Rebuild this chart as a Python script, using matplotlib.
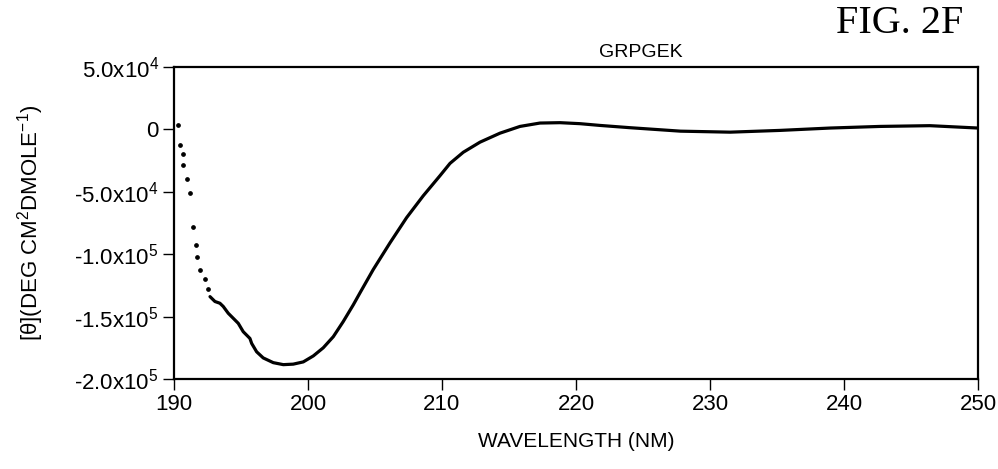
import numpy as np
import matplotlib
matplotlib.use("Agg")
from matplotlib import pyplot as plt

# CD spectrum of GRPGEK
# scattered points at the noisy short-wavelength end
dot_wl = [190.32, 190.45, 190.69, 190.69, 190.95, 191.19, 191.44, 191.64,
          191.74, 191.94, 192.34, 192.51]
dot_theta = [3800, -12300, -19600, -28500, -39700, -51000, -77900, -92900,
             -102100, -112800, -119800, -127900]

# continuous trace
line_wl = [192.69, 193.06, 193.43, 193.68, 194.05, 194.43, 194.80, 195.17,
           195.67, 195.80, 196.17, 196.66, 197.41, 198.16, 198.90, 199.65,
           200.40, 201.14, 201.89, 202.63, 203.38, 203.88, 204.87, 206.12,
           207.36, 208.60, 209.85, 210.60, 211.59, 212.84, 214.33, 215.82,
           217.31, 218.81, 220.30, 221.79, 224.0, 227.8, 231.5, 235.2,
           238.96, 242.7, 246.4, 250.0]
line_theta = [-134000, -137900, -139300, -141900, -147300, -151400, -155400,
              -162100, -167500, -171500, -178200, -183100, -186900, -188500,
              -188100, -186300, -181500, -175000, -166100, -154000, -140600,
              -131000, -112300, -90900, -70700, -53200, -37100, -27200,
              -18300, -10200, -3000, 2400, 5100, 5400, 4600, 3200, 1400,
              -1400, -2200, -800, 1100, 2400, 3000, 1100]

xticks = [190, 200, 210, 220, 230, 240, 250]
yticks = [5e4, 0, -5e4, -1e5, -1.5e5, -2e5]
ytick_labels = ['5.0x10$^4$', '0', '-5.0x10$^4$', '-1.0x10$^5$',
                '-1.5x10$^5$', '-2.0x10$^5$']

plt.rcParams['font.family'] = ['Liberation Sans', 'DejaVu Sans']
plt.rcParams['mathtext.fontset'] = 'custom'
plt.rcParams['mathtext.rm'] = 'Liberation Sans'
plt.rcParams['mathtext.it'] = 'Liberation Sans'
plt.rcParams['mathtext.default'] = 'regular'

fig = plt.figure(figsize=(9.98, 4.69), dpi=100)
ax = fig.add_axes([0.1743, 0.1919, 0.8057, 0.6652])

ax.plot(dot_wl, dot_theta, linestyle='none', marker='o', markersize=2.4,
        color='black')
ax.plot(line_wl, line_theta, color='black', linewidth=2.3,
        solid_joinstyle='round', solid_capstyle='round')

ax.set_xlim(190, 250)
ax.set_ylim(-2e5, 5e4)
ax.set_xticks(xticks)
ax.set_yticks(yticks)
ax.set_yticklabels(ytick_labels)
ax.tick_params(direction='out', length=8, width=1, labelsize=16, pad=3)
for s in ax.spines.values():
    s.set_linewidth(1.6)

ax.set_xlabel('WAVELENGTH (NM)', fontsize=15, labelpad=12)
ax.set_ylabel('[\u03b8](DEG CM$^2$DMOLE$^{-1}$)', fontsize=16, labelpad=20)

fig.text(641 / 998, 1 - 57 / 469, 'GRPGEK', fontsize=14, ha='center',
         va='baseline')
fig.text(963 / 998, 1 - 33 / 469, 'FIG. 2F', fontsize=29, ha='right',
         va='baseline', family='Liberation Serif')

fig.savefig('out.png', dpi=100)
